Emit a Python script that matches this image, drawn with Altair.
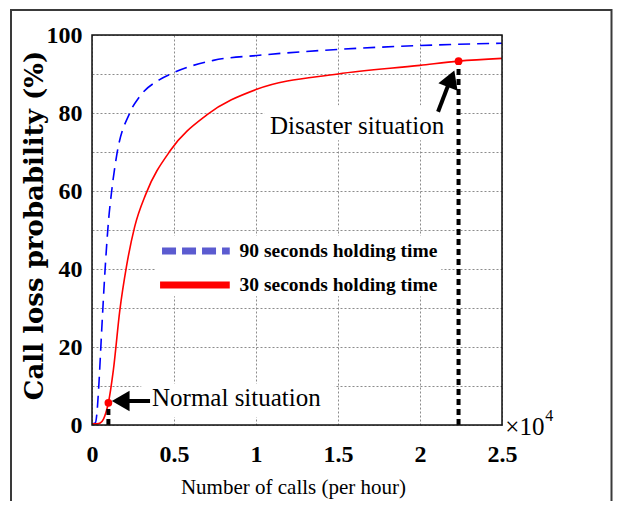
import altair as alt
import pandas as pd

# ---- data ----
series_names = ["90 seconds holding time", "30 seconds holding time"]

calls_90 = [0.0, 0.02, 0.03, 0.04, 0.06, 0.08, 0.10, 0.12, 0.15, 0.23, 0.29, 0.41, 0.49, 0.74, 1.02, 1.5, 2.0, 2.5]
loss_90 = [0.3, 0.5, 3.0, 9.0, 25.0, 40.0, 52.0, 60.0, 69.0, 80.0, 84.2, 88.5, 90.2, 93.5, 94.8, 96.3, 97.3, 97.9]

calls_30 = [0.0, 0.03, 0.05, 0.07, 0.085, 0.10, 0.13, 0.17, 0.21, 0.26, 0.33, 0.48, 0.70, 1.0, 1.5, 2.0, 2.235, 2.5]
loss_30 = [0.3, 0.3, 0.5, 1.5, 3.2, 5.7, 14.0, 29.5, 40.6, 50.8, 59.4, 70.5, 79.5, 86.0, 90.0, 92.2, 93.3, 94.0]

x_ticks = [0, 0.5, 1, 1.5, 2, 2.5]
y_ticks = [0, 10, 20, 30, 40, 50, 60, 70, 80, 90, 100]

event_names = ["Normal situation", "Disaster situation"]
event_calls = [0.10, 2.235]
event_loss = [5.7, 93.3]

x_title = "Number of calls (per hour)"
y_title = "Call loss probability (%)"
exponent_base = "\u00d710"
exponent_power = "4"

W, H = 410, 390
SERIF = "Liberation Serif, Times New Roman, Times, DejaVu Serif, serif"

XS = alt.Scale(domain=[0, 2.5], nice=False, zero=False)
YS = alt.Scale(domain=[0, 100], nice=False, zero=False)

AXX = alt.Axis(values=x_ticks, labelExpr="format(datum.value, '~g')", grid=True,
               gridDash=[2, 2], gridColor="#8c8c8c", gridWidth=1, domain=False, ticks=False,
               labelFont=SERIF, labelFontWeight="bold", labelFontSize=24, labelColor="black",
               labelPadding=17, labelFlush=False, labelOverlap=False,
               title=x_title, titleFont=SERIF, titleFontWeight="normal", titleFontSize=21,
               titleColor="black", titleX=201, titleY=62, titleBaseline="middle", titleAlign="center")
AXY = alt.Axis(values=y_ticks, labelExpr="datum.value % 20 == 0 ? datum.label : ''", grid=True,
               gridDash=[2, 2], gridColor="#8c8c8c", gridWidth=1, domain=False, ticks=False,
               labelFont=SERIF, labelFontWeight="bold", labelFontSize=24, labelColor="black",
               labelPadding=10, labelFlush=False, labelOverlap=False,
               title=y_title, titleFont="DejaVu Serif, serif", titleFontWeight="bold", titleFontSize=26,
               titleColor="black", titleX=-58, titleY=190, titleAngle=270,
               titleBaseline="middle", titleAlign="center")


def X(field):
    return alt.X(field, type="quantitative", scale=XS, axis=AXX)


def Y(field):
    return alt.Y(field, type="quantitative", scale=YS, axis=AXY)


df90 = pd.DataFrame({"x": calls_90, "y": loss_90, "s": series_names[0]})
df30 = pd.DataFrame({"x": calls_30, "y": loss_30, "s": series_names[1]})
dfev = pd.DataFrame({"name": event_names, "x": event_calls, "y": event_loss, "zero": [0, 0]})

# white boxes behind the annotations / legend (grid gaps as in reference)
boxes = pd.DataFrame({"x": [0.30, 1.05, 0.385], "x2": [1.48, 2.215, 2.13],
                      "y": [2.0, 73.0, 33.0], "y2": [10.6, 82.0, 48.5]})
box_layer = alt.Chart(boxes).mark_rect(color="white").encode(
    x=X("x"), x2="x2", y=Y("y"), y2="y2")

line90 = alt.Chart(df90).mark_line(color="#0000ff", strokeWidth=1.6, strokeDash=[12, 7],
                                   interpolate="monotone").encode(x=X("x"), y=Y("y"))
line30 = alt.Chart(df30).mark_line(color="#ff0000", strokeWidth=1.6,
                                   interpolate="monotone").encode(x=X("x"), y=Y("y"))

vlines = alt.Chart(dfev).mark_rule(color="black", strokeWidth=4, strokeDash=[6, 4]).encode(
    x=X("x"), y=Y("zero"), y2="y")
dots = alt.Chart(dfev).mark_point(color="red", filled=True, opacity=1, size=60).encode(
    x=X("x"), y=Y("y"))

# legend drawn inside the plot
leg = pd.DataFrame({"name": series_names, "x": [0.427, 0.415], "x2": [0.84, 0.84],
                    "y": [44.6, 35.9], "tx": [0.90, 0.90]})
leg_blue = alt.Chart(leg.iloc[[0]]).mark_rule(color="#5b5bd0", strokeWidth=7, strokeDash=[14, 6]).encode(
    x=X("x"), x2="x2", y=Y("y"))
leg_red = alt.Chart(leg.iloc[[1]]).mark_rule(color="#ff0000", strokeWidth=7).encode(
    x=X("x"), x2="x2", y=Y("y"))
leg_text = alt.Chart(leg).mark_text(align="left", baseline="middle", font=SERIF, fontWeight="bold",
                                    fontSize=19.5, color="black").encode(
    x=X("tx"), y=Y("y"), text="name")

# annotations
ann = pd.DataFrame({"name": event_names, "x": [0.366, 1.085], "y": [6.9, 76.7]})
ann_text = alt.Chart(ann).mark_text(align="left", baseline="middle", font=SERIF, fontSize=25,
                                    color="black").encode(x=X("x"), y=Y("y"), text="name")

shafts = pd.DataFrame({"x": [0.18, 2.11], "y": [6.15, 80.3], "x2": [0.354, 2.18], "y2": [6.15, 88.0]})
shaft_layer = alt.Chart(shafts).mark_rule(color="black", strokeWidth=4).encode(
    x=X("x"), y=Y("y"), x2="x2", y2="y2")
head1 = alt.Chart(pd.DataFrame({"x": [0.175], "y": [6.15]})).mark_point(
    shape="triangle-left", filled=True, color="black", opacity=1, size=420).encode(x=X("x"), y=Y("y"))
head2 = alt.Chart(pd.DataFrame({"x": [2.19], "y": [88.8]})).mark_point(
    shape="triangle-up", filled=True, color="black", opacity=1, size=420, angle=21).encode(x=X("x"), y=Y("y"))

expo = pd.DataFrame({"x": [2.52], "y": [-0.6], "b": [exponent_base], "p": [exponent_power]})
expo_base = alt.Chart(expo).mark_text(align="left", baseline="middle", font=SERIF, fontSize=25,
                                      color="black").encode(x=X("x"), y=Y("y"), text="b")
expo_pow = alt.Chart(expo).mark_text(align="left", baseline="middle", font=SERIF, fontSize=16,
                                     color="black", dx=40, dy=-11).encode(x=X("x"), y=Y("y"), text="p")

border = alt.Chart(pd.DataFrame({"k": [0]})).mark_rect(fillOpacity=0, stroke="#111", strokeWidth=1.5).encode(
    x=alt.value(0), x2=alt.value(W), y=alt.value(0), y2=alt.value(H))
frame = alt.Chart(pd.DataFrame({"k": [0]})).mark_rect(fillOpacity=0, stroke="#3a3a3a", strokeWidth=2).encode(
    x=alt.value(-81), x2=alt.value(519.5), y=alt.value(-25), y2=alt.value(480))

chart = alt.layer(
    box_layer, line90, line30, vlines, dots, leg_blue, leg_red, leg_text,
    ann_text, shaft_layer, head1, head2, expo_base, expo_pow, border, frame
).properties(
    width=W, height=H,
    autosize=alt.AutoSizeParams(type="none"),
    padding={"left": 84, "top": 27, "right": 111, "bottom": 76},
).configure_view(stroke=None).configure(background="white")

chart.save("out.html", embed_options={"renderer": "svg", "actions": False})
